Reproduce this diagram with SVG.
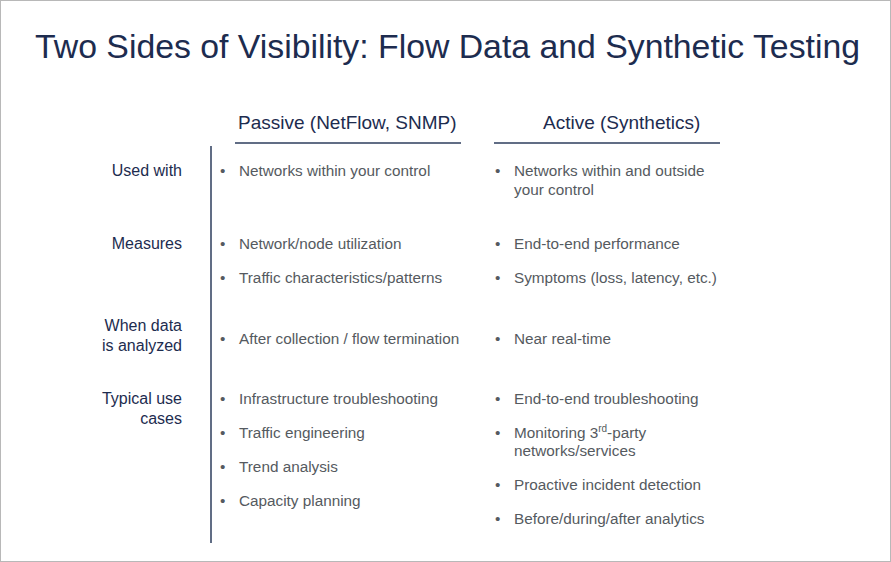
<svg xmlns="http://www.w3.org/2000/svg" width="891" height="562" viewBox="0 0 891 562">
<style>
text{font-family:"Liberation Sans",Arial,sans-serif}
.t{font-size:34px;fill:#1d2c4f}
.h{font-size:19px;fill:#1d2c4f}
.l{font-size:16px;fill:#1d2c4f;text-anchor:end}
.b{font-size:15.3px;fill:#555a60}
.ln{stroke:#2d3d5c;stroke-width:1.5}
</style>
<rect x="0.5" y="0.5" width="890" height="561" fill="#fff" stroke="#b8b8b8"/>
<text class="t" x="35" y="58" textLength="825" lengthAdjust="spacingAndGlyphs">Two Sides of Visibility: Flow Data and Synthetic Testing</text>
<g id="headers">
<text class="h" x="238" y="129">Passive (NetFlow, SNMP)</text>
<line class="ln" x1="235" y1="143" x2="461" y2="143"/>
<text class="h" x="543" y="129">Active (Synthetics)</text>
<line class="ln" x1="494" y1="143" x2="720" y2="143"/>
</g>
<g id="connectors"><line class="ln" x1="211" y1="146" x2="211" y2="543"/></g>
<g id="labels">
<text class="l" x="182" y="176">Used with</text>
<text class="l" x="182" y="249">Measures</text>
<text class="l" x="182" y="331">When data</text>
<text class="l" x="182" y="351">is analyzed</text>
<text class="l" x="182" y="404">Typical use</text>
<text class="l" x="182" y="424">cases</text>
</g>
<g id="passive">
<text class="b" x="220" y="176">•</text><text class="b" x="239" y="176">Networks within your control</text>
<text class="b" x="220" y="249">•</text><text class="b" x="239" y="249">Network/node utilization</text>
<text class="b" x="220" y="283">•</text><text class="b" x="239" y="283">Traffic characteristics/patterns</text>
<text class="b" x="220" y="344">•</text><text class="b" x="239" y="344">After collection / flow termination</text>
<text class="b" x="220" y="404">•</text><text class="b" x="239" y="404">Infrastructure troubleshooting</text>
<text class="b" x="220" y="438">•</text><text class="b" x="239" y="438">Traffic engineering</text>
<text class="b" x="220" y="472">•</text><text class="b" x="239" y="472">Trend analysis</text>
<text class="b" x="220" y="506">•</text><text class="b" x="239" y="506">Capacity planning</text>
</g>
<g id="active">
<text class="b" x="495" y="176">•</text><text class="b" x="514" y="176">Networks within and outside</text>
<text class="b" x="514" y="195">your control</text>
<text class="b" x="495" y="249">•</text><text class="b" x="514" y="249">End-to-end performance</text>
<text class="b" x="495" y="283">•</text><text class="b" x="514" y="283">Symptoms (loss, latency, etc.)</text>
<text class="b" x="495" y="344">•</text><text class="b" x="514" y="344">Near real-time</text>
<text class="b" x="495" y="404">•</text><text class="b" x="514" y="404">End-to-end troubleshooting</text>
<text class="b" x="495" y="438">•</text><text class="b" x="514" y="438">Monitoring 3<tspan font-size="10" dy="-6">rd</tspan><tspan dy="6">-party</tspan></text>
<text class="b" x="514" y="456">networks/services</text>
<text class="b" x="495" y="490">•</text><text class="b" x="514" y="490">Proactive incident detection</text>
<text class="b" x="495" y="524">•</text><text class="b" x="514" y="524">Before/during/after analytics</text>
</g>
</svg>
